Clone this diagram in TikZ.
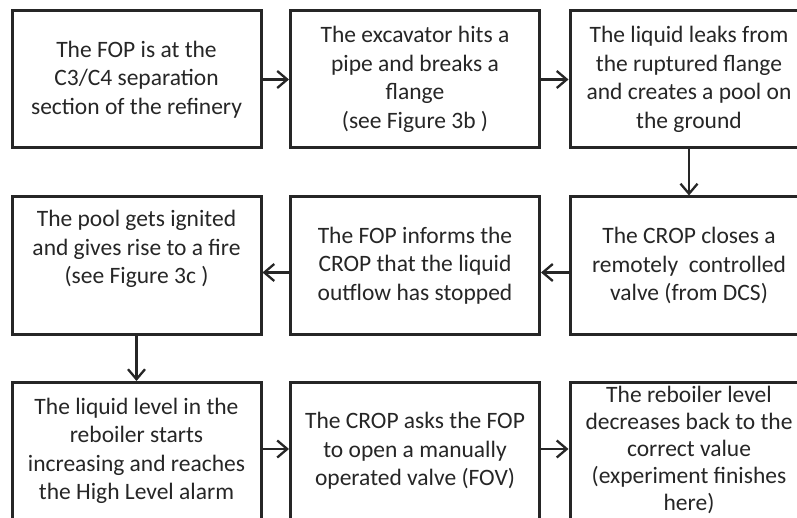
\documentclass[tikz,border=0pt]{standalone}
\usepackage{fontspec}
\setmainfont{Carlito}
\usetikzlibrary{arrows.meta}
\tikzset{
  box/.style={draw=black!85, line width=3pt, rectangle, minimum height=137pt, inner sep=0pt, align=center, font=\fontsize{23.5}{28.5}\selectfont, text=black!85},
  wA/.style={minimum width=249pt},
  wC/.style={minimum width=238pt},
  conn/.style={draw=black!85, line width=2.3pt, -{Straight Barb[length=10pt,width=17pt,line width=2.3pt]}}
}
\begin{document}
\begin{tikzpicture}[x=1pt,y=-1pt]
\useasboundingbox (0,0) rectangle (797,518);
\clip (0,0) rectangle (797,518);
\fill[white] (0,0) rectangle (797,518);
% row 1
\node[box,wA] (b1) at (136.5,79.5) {The FOP is at the\\C3/C4 separation\\section of the refinery};
\node[box,wA] (b2) at (415,79.5) {The excavator hits a\\pipe and breaks a\\flange\\(see Figure 3b )};
\node[box,wC] (b3) at (689,79.5) {The liquid leaks from\\the ruptured flange\\and creates a pool on\\the ground};
% row 2
\node[box,wA] (b4) at (136.5,265.5) {The pool gets ignited\\and gives rise to a fire\\(see Figure 3c )\\\strut};
\node[box,wA] (b5) at (415,265.5) {The FOP informs the\\CROP that the liquid\\outflow has stopped};
\node[box,wC] (b6) at (689,265.5) {The CROP closes a\\remotely\ \ controlled\\valve (from DCS)};
% row 3
\node[box,wA] (b7) at (136.5,451) {The liquid level in the\\reboiler starts\\increasing and reaches\\the High Level alarm};
\node[box,wA] (b8) at (415,451) {The CROP asks the FOP\\to open a manually\\operated valve (FOV)};
\node[box,wC] (b9) at (689,451) {};
\node[align=center, font=\fontsize{23.5}{27}\selectfont, text=black!85, inner sep=0pt] (t9) at ([yshift=1.5pt]b9.center) {The reboiler level\\decreases back to the\\correct value\\(experiment finishes\\here)};
% connectors
\draw[conn] (b1.east) -- (b2.west);
\draw[conn] (b2.east) -- (b3.west);
\draw[conn] (b3.south) -- (b6.north);
\draw[conn] ([yshift=-7pt]b6.west) -- ([yshift=-7pt]b5.east);
\draw[conn] ([yshift=-7pt]b5.west) -- ([yshift=-7pt]b4.east);
\draw[conn] (b4.south) -- (b7.north);
\draw[conn] ([yshift=2pt]b7.east) -- ([yshift=2pt]b8.west);
\draw[conn] ([yshift=2pt]b8.east) -- ([yshift=2pt]b9.west);
\end{tikzpicture}
\end{document}
